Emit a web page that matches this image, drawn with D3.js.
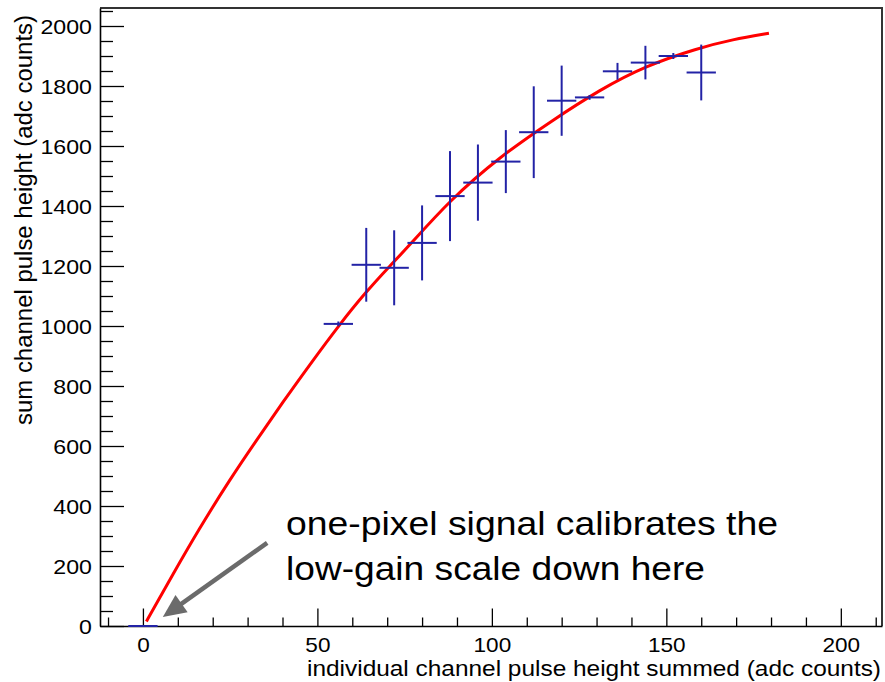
<!DOCTYPE html>
<html>
<head>
<meta charset="utf-8">
<script src="https://cdn.jsdelivr.net/npm/d3@7"></script>
<style>
  html, body { margin: 0; padding: 0; background: #fff; }
  svg { display: block; }
  text { font-family: "Liberation Sans", Arial, Helvetica, sans-serif; fill: #000; }
</style>
</head>
<body>
<svg id="chart" width="885" height="682"></svg>
<script>
// ---- data ----
const pointX      = [0, 56, 64, 72, 80, 88, 96, 104, 112, 120, 128, 136, 144, 152, 160];
const pointY      = [0, 1007, 1204, 1194, 1277, 1433, 1478, 1548, 1646, 1751, 1762, 1849, 1878, 1900, 1845];
const pointYErr   = [0, 8, 123, 125, 125, 150, 127, 105, 153, 117, 8, 28, 56, 10, 93];
const pointXErr   = [4.2, 4.2, 4.2, 4.2, 4.2, 4.2, 4.2, 4.2, 4.2, 4.2, 4.2, 4.2, 4.2, 4.2, 4.2];

const fitX = [1, 4, 8, 16, 25, 32.6, 40.2, 48, 56, 64, 71, 76, 88, 102, 117, 131, 144, 159, 169, 179.4];
const fitY = [15, 78, 160, 322, 490, 620, 748, 874, 1000, 1115, 1203, 1264, 1420, 1562, 1683, 1788, 1867, 1926, 1955, 1976];

const xMajorTicks = [0, 50, 100, 150, 200];
const xMinorTicks = [-10, 10, 20, 30, 40, 60, 70, 80, 90, 110, 120, 130, 140, 160, 170, 180, 190, 210];
const yMajorTicks = [0, 200, 400, 600, 800, 1000, 1200, 1400, 1600, 1800, 2000];
const yMinorTicks = d3.range(50, 2060, 50).filter(v => v % 200 !== 0);

const xTitle = "individual channel pulse height summed (adc counts)";
const yTitle = "sum channel pulse height (adc counts)";
const noteLines = ["one-pixel signal calibrates the", "low-gain scale down here"];
const noteAnchor = [41, 303, 153];          // x, baseline of line 1, baseline of line 2 (data units)
const arrowTail = [35.6, 277];
const arrowTip  = [5.7, 30];

// ---- layout ----
const svg = d3.select("#chart");
const x = d3.scaleLinear().domain([-12.3, 211.8]).range([100, 882]);
const y = d3.scaleLinear().domain([0, 2060]).range([626, 8]);
const stretch = 1.13;

// frame (top & right)
svg.append("path")
  .attr("d", `M${x.range()[0]},${y.range()[1]}H${x.range()[1]}V${y.range()[0]}`)
  .attr("fill", "none").attr("stroke", "#333").attr("stroke-width", 2);

// x axis
const gx = svg.append("g").attr("transform", `translate(0,${y(0)})`);
gx.call(d3.axisBottom(x).tickValues(xMinorTicks).tickSize(-8.5).tickSizeOuter(0).tickFormat(() => ""));
gx.select(".domain").remove();
const gxMaj = svg.append("g").attr("transform", `translate(0,${y(0)})`);
gxMaj.call(d3.axisBottom(x).tickValues(xMajorTicks).tickSize(-17.5).tickSizeOuter(0).tickFormat(d3.format("d")));
gxMaj.selectAll(".tick text")
  .attr("y", 0).attr("dy", 0)
  .attr("transform", `translate(0,26) scale(${stretch},1)`)
  .attr("font-size", 20).attr("font-family", "Liberation Sans, Arial, sans-serif").style("fill", "#000");

// y axis
const gy = svg.append("g").attr("transform", `translate(${x.range()[0]},0)`);
gy.call(d3.axisLeft(y).tickValues(yMinorTicks).tickSize(-13).tickSizeOuter(0).tickFormat(() => ""));
gy.select(".domain").remove();
const gyMaj = svg.append("g").attr("transform", `translate(${x.range()[0]},0)`);
gyMaj.call(d3.axisLeft(y).tickValues(yMajorTicks).tickSize(-24).tickSizeOuter(0).tickPadding(8).tickFormat(d3.format("d")));
gyMaj.selectAll(".tick text")
  .attr("x", -8 / stretch).attr("dy", "0.36em")
  .attr("transform", `scale(${stretch},1)`)
  .attr("font-size", 20.5).attr("font-family", "Liberation Sans, Arial, sans-serif").style("fill", "#000");

svg.selectAll(".tick line").attr("stroke", "#000").attr("stroke-width", 1.3);
svg.selectAll(".domain").attr("stroke", "#000").attr("stroke-width", 1.6);

// axis titles
svg.append("text")
  .attr("x", 307).attr("y", 676)
  .attr("font-size", 21.5)
  .attr("textLength", 574).attr("lengthAdjust", "spacingAndGlyphs")
  .text(xTitle);

svg.append("text")
  .attr("transform", "translate(32,425) rotate(-90)")
  .attr("font-size", 23)
  .attr("textLength", 410).attr("lengthAdjust", "spacingAndGlyphs")
  .text(yTitle);

// fit curve
const line = d3.line().x(d => x(d[0])).y(d => y(d[1])).curve(d3.curveBasis);
svg.append("path")
  .datum(fitX.map((v, i) => [v, fitY[i]]))
  .attr("d", line)
  .attr("fill", "none").attr("stroke", "#ff0000").attr("stroke-width", 3);

// data points with error bars
const pts = pointX.map((v, i) => ({ x: v, y: pointY[i], ex: pointXErr[i], ey: pointYErr[i] }));
const gp = svg.append("g").attr("stroke", "#2323a6").attr("stroke-width", 2);
gp.selectAll("line.h").data(pts).join("line").attr("class", "h")
  .attr("x1", d => x(d.x - d.ex)).attr("x2", d => x(d.x + d.ex))
  .attr("y1", d => y(d.y)).attr("y2", d => y(d.y));
gp.selectAll("line.v").data(pts.filter(d => d.ey > 0)).join("line").attr("class", "v")
  .attr("x1", d => x(d.x)).attr("x2", d => x(d.x))
  .attr("y1", d => y(d.y - d.ey)).attr("y2", d => y(d.y + d.ey));

// annotation text
const noteWidths = [492, 419];
noteLines.forEach((t, i) => {
  svg.append("text")
    .attr("x", x(noteAnchor[0])).attr("y", y(noteAnchor[1 + i]))
    .attr("font-size", 32.5)
    .attr("textLength", noteWidths[i]).attr("lengthAdjust", "spacingAndGlyphs")
    .text(t);
});

// arrow
const tx = x(arrowTail[0]), ty = y(arrowTail[1]);
const px = x(arrowTip[0]), py = y(arrowTip[1]);
const len = Math.hypot(px - tx, py - ty);
const ux = (px - tx) / len, uy = (py - ty) / len;
const headL = 23, headW = 10.5;
const bx = px - ux * headL, by = py - uy * headL;
svg.append("line")
  .attr("x1", tx).attr("y1", ty).attr("x2", bx + ux * 2).attr("y2", by + uy * 2)
  .attr("stroke", "#6b6b6b").attr("stroke-width", 4.5);
svg.append("path")
  .attr("d", `M${px},${py}L${bx - uy * headW},${by + ux * headW}L${bx + uy * headW},${by - ux * headW}Z`)
  .attr("fill", "#6b6b6b");
</script>
</body>
</html>
